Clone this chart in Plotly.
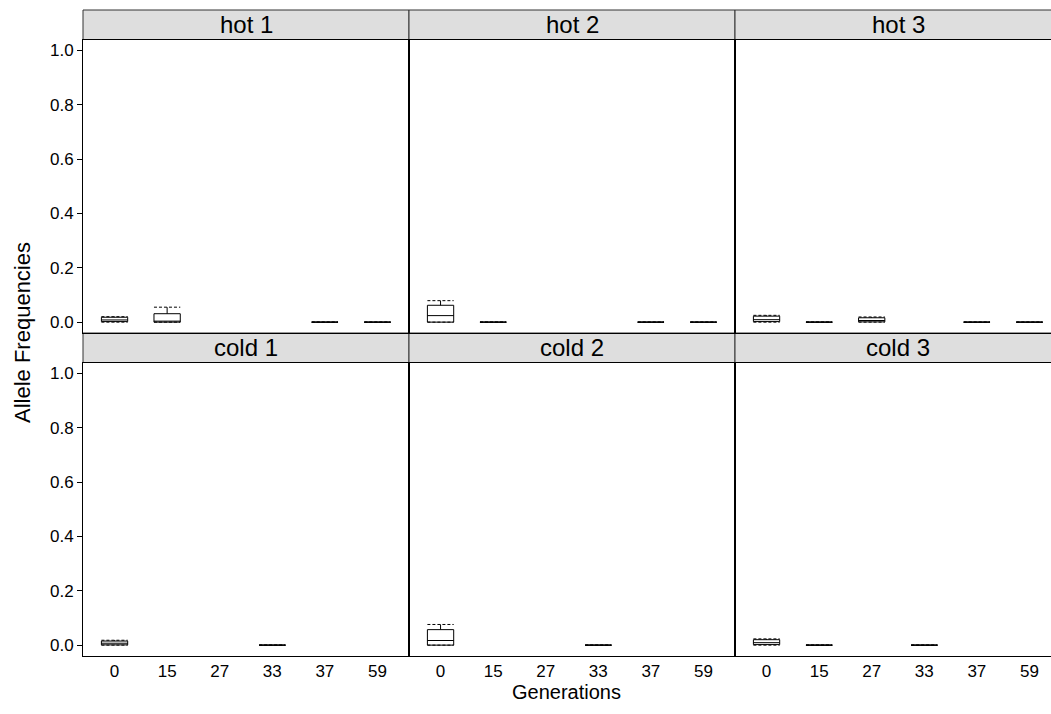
import plotly.graph_objects as go

# ---------------- data ----------------
generations = ["0", "15", "27", "33", "37", "59"]
panels = ["hot 1", "hot 2", "hot 3", "cold 1", "cold 2", "cold 3"]

# box statistics per panel (rows) and generation (columns); None = no data
box_lower = [
    [0.0, 0.0, None, None, 0.0, 0.0],
    [0.0, 0.0, None, None, 0.0, 0.0],
    [0.0, 0.0, 0.0, None, 0.0, 0.0],
    [0.0, None, None, 0.0, None, None],
    [0.0, None, None, 0.0, None, None],
    [0.0, 0.0, None, 0.0, None, None],
]
box_q1 = [
    [0.002, 0.0, None, None, 0.0, 0.0],
    [0.0, 0.0, None, None, 0.0, 0.0],
    [0.002, 0.0, 0.001, None, 0.0, 0.0],
    [0.001, None, None, 0.0, None, None],
    [0.0, None, None, 0.0, None, None],
    [0.002, 0.0, None, 0.0, None, None],
]
box_median = [
    [0.008, 0.002, None, None, 0.0, 0.0],
    [0.024, 0.0, None, None, 0.0, 0.0],
    [0.009, 0.0, 0.006, None, 0.0, 0.0],
    [0.007, None, None, 0.0, None, None],
    [0.017, None, None, 0.0, None, None],
    [0.009, 0.0, None, 0.0, None, None],
]
box_q3 = [
    [0.018, 0.031, None, None, 0.0, 0.0],
    [0.062, 0.0, None, None, 0.0, 0.0],
    [0.022, 0.0, 0.016, None, 0.0, 0.0],
    [0.015, None, None, 0.0, None, None],
    [0.057, None, None, 0.0, None, None],
    [0.020, 0.0, None, 0.0, None, None],
]
box_upper = [
    [0.020, 0.055, None, None, 0.0, 0.0],
    [0.079, 0.0, None, None, 0.0, 0.0],
    [0.025, 0.0, 0.019, None, 0.0, 0.0],
    [0.018, None, None, 0.0, None, None],
    [0.076, None, None, 0.0, None, None],
    [0.023, 0.0, None, 0.0, None, None],
]
y_ticks = [0.0, 0.2, 0.4, 0.6, 0.8, 1.0]

# ---------------- layout geometry ----------------
W, H = 1051, 714
ML, MT, MB = 83, 10, 58
plot_w = W - ML
plot_h = H - MT - MB
panel_px = 326.0
strip_px = 29.5
panel_h = (plot_h - 2 * strip_px) / 2.0
unit_px = panel_px / 6.2
BOX_W = 0.5
FONT = "Liberation Sans, Arial, Helvetica, sans-serif"

def px_x(p):
    return p / plot_w

def px_y(p):  # p measured from bottom of plotting area
    return p / plot_h

x_domains = [
    [0.0, px_x(panel_px)],
    [px_x(panel_px), px_x(2 * panel_px)],
    [px_x(2 * panel_px), 1.0],
]
row_bottom = {
    0: (panel_h + strip_px),  # hot row panel bottom (px from bottom)
    1: 0.0,                   # cold row
}

fig = go.Figure()
shapes = []
annotations = []
positions = list(range(1, len(generations) + 1))

for i, name in enumerate(panels):
    row, col = divmod(i, 3)
    ax = "" if i == 0 else str(i + 1)
    xa, ya = "x" + ax, "y" + ax

    xs, q1, med, q3, lo, up = [], [], [], [], [], []
    for j in range(len(generations)):
        if box_median[i][j] is None:
            continue
        xs.append(positions[j])
        q1.append(box_q1[i][j])
        med.append(box_median[i][j])
        q3.append(box_q3[i][j])
        lo.append(box_lower[i][j])
        up.append(box_upper[i][j])

    fig.add_trace(go.Box(
        x=xs, q1=q1, median=med, q3=q3, lowerfence=lo, upperfence=up,
        width=BOX_W, whiskerwidth=0, boxpoints=False,
        line=dict(color="black", width=1), fillcolor="rgba(0,0,0,0)",
        xaxis=xa, yaxis=ya, showlegend=False, hoverinfo="skip",
    ))
    # dashed whisker caps
    cx, cy = [], []
    for xv, l, u in zip(xs, lo, up):
        for v in (l, u):
            cx += [xv - BOX_W / 2, xv + BOX_W / 2, None]
            cy += [v, v, None]
    fig.add_trace(go.Scatter(
        x=cx, y=cy, mode="lines",
        line=dict(color="black", width=1, dash="3px,2px"),
        xaxis=xa, yaxis=ya, showlegend=False, hoverinfo="skip",
    ))

    # axes
    xdom = x_domains[col]
    yb = row_bottom[row]
    ydom = [px_y(yb), px_y(yb + panel_h)]
    right_px = min(panel_px, plot_w - col * panel_px)
    xrange = [0.4, 0.4 + right_px / unit_px]

    xaxis = dict(
        domain=xdom, range=xrange, anchor=ya,
        tickvals=positions, ticktext=generations,
        showticklabels=(row == 1), ticks="",
        showline=True, linecolor="black", linewidth=1, mirror=True,
        showgrid=False, zeroline=False,
        tickfont=dict(size=17, color="black", family=FONT),
    )
    yaxis = dict(
        domain=ydom, range=[-0.04, 1.04], anchor=xa,
        tickvals=y_ticks, ticktext=[f"{t:.1f}" for t in y_ticks],
        showticklabels=(col == 0), ticks="outside" if col == 0 else "",
        ticklen=5, tickcolor="black",
        showline=True, linecolor="black", linewidth=1,
        mirror=(col < 2),
        showgrid=False, zeroline=False,
        tickfont=dict(size=17, color="black", family=FONT),
    )
    fig.layout["xaxis" + ax] = xaxis
    fig.layout["yaxis" + ax] = yaxis

    # strip
    s0 = px_y(yb + panel_h)
    s1 = px_y(yb + panel_h + strip_px)
    x1 = xdom[1] if col < 2 else 1.02
    shapes.append(dict(
        type="rect", xref="paper", yref="paper",
        x0=xdom[0], x1=x1, y0=s0, y1=s1,
        fillcolor="#dedede", line=dict(color="#333333", width=1), layer="below",
    ))
    annotations.append(dict(
        text=name, xref="paper", yref="paper",
        x=(xdom[0] + xdom[0] + px_x(panel_px)) / 2, y=(s0 + s1) / 2,
        xanchor="center", yanchor="middle", showarrow=False,
        font=dict(size=24, color="black", family=FONT),
    ))

annotations.append(dict(
    text="Allele Frequencies", xref="paper", yref="paper",
    x=px_x(22 - ML), y=0.5, textangle=-90,
    xanchor="center", yanchor="middle", showarrow=False,
    font=dict(size=22, color="black", family=FONT),
))
annotations.append(dict(
    text="Generations", xref="paper", yref="paper",
    x=px_x(566 - ML), y=px_y(-36),
    xanchor="center", yanchor="middle", showarrow=False,
    font=dict(size=20, color="black", family=FONT),
))

fig.update_layout(
    width=W, height=H, autosize=False,
    margin=dict(l=ML, r=0, t=MT, b=MB, pad=0),
    paper_bgcolor="white", plot_bgcolor="white",
    shapes=shapes, annotations=annotations,
    font=dict(family=FONT, color="black"),
)

fig.write_html("out.html")
